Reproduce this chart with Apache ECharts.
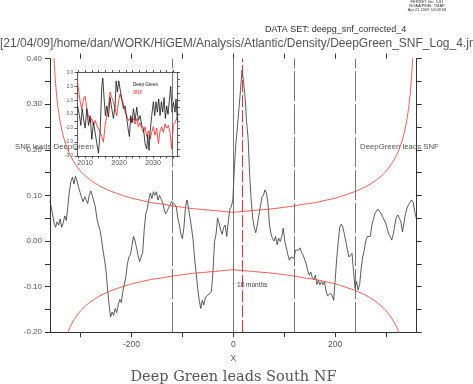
<!DOCTYPE html>
<html><head><meta charset="utf-8">
<script src="https://cdn.jsdelivr.net/npm/echarts@6/dist/echarts.min.js"></script>
<style>html,body{margin:0;padding:0;background:#fff}#c{width:473px;height:384px}</style>
</head><body><div id="c"></div>
<script>
// ---- main lag-correlation series (lag in months) ----
const lags = [-360,-356,-352,-349,-346,-343,-340,-337,-334,-331,-328,-325,-322,-319,-316,-313,-310,-307,-304,-301,-298,-295,-292,-289,-286,-283,-280,-277,-274,-271,-268,-265,-262,-259,-256,-253,-250,-247,-244,-241,-238,-235,-232,-229,-226,-223,-220,-217,-214,-211,-208,-205,-202,-199,-196,-193,-190,-187,-184,-181,-178,-175,-172,-169,-166,-163,-160,-157,-154,-151,-148,-145,-142,-139,-136,-133,-130,-127,-124,-121,-118,-115,-112,-109,-106,-103,-100,-97,-94,-91,-88,-85,-82,-79,-76,-73,-70,-67,-64,-61,-58,-55,-52,-49,-46,-43,-40,-37,-34,-31,-28,-25,-22,-19,-16,-13,-10,-7,-4,-1,2,5,8,11,14,17,20,23,26,29,32,35,38,41,44,47,50,53,56,59,62,65,68,71,74,77,80,83,86,89,92,95,98,101,104,107,110,113,116,119,122,125,128,131,134,137,140,143,146,149,152,155,158,161,164,167,170,173,176,179,182,185,188,191,194,197,200,203,206,209,212,215,218,221,224,227,230,233,236,239,242,245,248,251,254,257,260,263,266,269,272,275,278,281,284,287,290,293,296,299,302,305,308,311,314,317,320,323,326,329,332,335,338,341,344,347,350,353,356,360];
const corr = [0.088,0.065,0.04,0.03,0.042,0.035,0.048,0.03,0.04,0.055,0.045,0.075,0.108,0.13,0.14,0.125,0.142,0.132,0.118,0.107,0.095,0.086,0.097,0.09,0.082,0.1,0.11,0.1,0.096,0.075,0.05,0.035,0.025,0.005,-0.02,-0.04,-0.065,-0.105,-0.14,-0.167,-0.156,-0.163,-0.148,-0.157,-0.14,-0.128,-0.135,-0.11,-0.095,-0.078,-0.05,-0.035,-0.03,-0.01,0.01,0.0,-0.015,-0.032,-0.045,-0.047,-0.025,0.025,0.06,0.07,0.09,0.105,0.093,0.108,0.1,0.108,0.09,0.1,0.096,0.085,0.07,0.06,0.066,0.07,0.08,0.087,0.09,0.08,0.075,0.05,0.035,0.015,0.005,0.03,0.075,0.09,0.072,0.05,0.028,0.002,-0.04,-0.07,-0.104,-0.13,-0.148,-0.13,-0.14,-0.125,-0.12,-0.122,-0.115,-0.11,-0.067,-0.001,0.015,0.05,0.04,0.024,0.015,0.03,0.035,0.01,0.042,0.07,0.075,0.09,0.16,0.215,0.25,0.29,0.33,0.375,0.35,0.315,0.262,0.225,0.145,0.09,0.05,0.03,0.018,0.035,0.055,0.075,0.095,0.1,0.112,0.105,0.082,0.035,0.015,0.005,0.0,0.01,-0.008,0.006,-0.001,0.01,0.028,0.0,-0.015,-0.03,-0.042,-0.035,-0.031,-0.038,-0.02,-0.018,-0.02,-0.015,-0.025,-0.031,-0.034,-0.05,-0.065,-0.075,-0.068,-0.08,-0.085,-0.075,-0.095,-0.086,-0.096,-0.089,-0.096,-0.089,-0.11,-0.12,-0.122,-0.115,-0.12,-0.13,-0.085,-0.038,-0.001,0.031,0.037,0.03,0.015,-0.002,-0.02,-0.035,-0.038,-0.027,-0.067,-0.104,-0.089,-0.107,-0.095,-0.06,-0.035,-0.02,0.0,0.01,0.013,0.01,0.035,0.048,0.06,0.058,0.07,0.07,0.06,0.053,0.05,0.039,0.028,0.015,0.01,0.002,0.015,0.035,0.052,0.057,0.05,0.042,0.02,0.04,0.06,0.072,0.08,0.085,0.09,0.085,0.065,0.046];

// ---- significance bounds (red curves) ----
const boundLags = [-356,-352,-350,-348,-345,-340,-335,-330,-325,-320,-310,-300,-290,-280,-260,-240,-220,-200,-180,-160,-140,-120,-100,-80,-60,-40,-20,0,20,40,60,80,100,120,140,160,180,200,220,240,260,280,290,300,310,320,325,330,335,340,345,348,350,352,356];
const upperBound = [0.535,0.399,0.361,0.332,0.299,0.261,0.235,0.215,0.2,0.187,0.168,0.153,0.142,0.133,0.119,0.109,0.101,0.094,0.089,0.084,0.081,0.077,0.074,0.071,0.069,0.067,0.065,0.063,0.065,0.067,0.069,0.071,0.074,0.077,0.081,0.084,0.089,0.094,0.101,0.109,0.119,0.133,0.142,0.153,0.168,0.187,0.2,0.215,0.235,0.261,0.299,0.332,0.361,0.399,0.535];
const lowerBound = [-0.535,-0.399,-0.361,-0.332,-0.299,-0.261,-0.235,-0.215,-0.2,-0.187,-0.168,-0.153,-0.142,-0.133,-0.119,-0.109,-0.101,-0.094,-0.089,-0.084,-0.081,-0.077,-0.074,-0.071,-0.069,-0.067,-0.065,-0.063,-0.065,-0.067,-0.069,-0.071,-0.074,-0.077,-0.081,-0.084,-0.089,-0.094,-0.101,-0.109,-0.119,-0.133,-0.142,-0.153,-0.168,-0.187,-0.2,-0.215,-0.235,-0.261,-0.299,-0.332,-0.361,-0.399,-0.535];

// ---- reference lines ----
const dashedLags = [-120, 120, 240];
const zeroLag = 0;
const leadLag = 18;

// ---- axis ticks / labels ----
const xTickVals = [-300,-200,-100,0,100,200,300];
const xLabelVals = [-200,0,200];
const yTickVals = [-0.2,-0.15,-0.1,-0.05,0,0.05,0.1,0.15,0.2,0.25,0.3,0.35,0.4];
const yLabelVals = [-0.2,-0.1,0,0.1,0.2,0.3,0.4];

// ---- inset time series ----
const dgYears = [2007.75,2008.33,2008.73,2009.12,2009.51,2010.0,2010.49,2010.98,2011.47,2011.96,2012.45,2012.94,2013.43,2013.92,2014.41,2014.9,2015.2,2015.59,2015.98,2016.37,2016.86,2017.35,2017.84,2018.33,2018.82,2019.12,2019.51,2019.9,2020.29,2020.78,2021.27,2021.76,2022.25,2022.75,2023.04,2023.43,2023.82,2024.22,2024.71,2025.2,2025.69,2026.18,2026.67,2027.16,2027.65,2028.14,2028.43,2028.82,2029.12,2029.61,2030.1,2030.49,2030.88,2031.27,2031.67,2032.06,2032.45,2032.84,2033.24,2033.63,2034.02,2034.41,2034.8,2035.2,2035.59,2035.98,2036.47,2036.76,2037.16];
const dgVals = [0.6,-0.1,-0.8,0.4,-0.3,-1.0,0.4,-0.8,-0.1,-1.8,-0.6,-1.3,-2.1,-2.8,-1.3,2.0,2.6,1.1,-0.1,0.6,-0.2,1.2,0.4,-0.3,0.6,2.4,1.6,2.4,1.8,1.1,0.4,0.6,-0.3,-1.2,-1.6,-0.1,-0.6,0.4,-0.45,0.5,-0.45,-0.1,-0.8,-1.0,-2.1,-2.5,-1.5,-2.6,-1.3,-0.1,0.9,-0.1,0.9,0.15,1.1,-0.1,0.9,0.15,1.2,-0.3,0.6,0.0,1.0,2.0,0.15,0.9,0.15,1.1,-0.45];
const snfYears = [2007.75,2008.14,2008.53,2009.02,2009.51,2010.0,2010.49,2010.98,2011.47,2011.96,2012.45,2012.94,2013.43,2013.92,2014.41,2014.9,2015.39,2015.88,2016.37,2016.86,2017.35,2017.84,2018.33,2018.82,2019.31,2019.8,2020.29,2020.78,2021.27,2021.76,2022.25,2022.75,2023.24,2023.73,2024.22,2024.71,2025.2,2025.69,2026.18,2026.67,2027.16,2027.65,2028.14,2028.63,2029.12,2029.61,2030.1,2030.59,2031.08,2031.57,2032.06,2032.55,2033.04,2033.53,2034.02,2034.51,2035.0,2035.49,2035.98,2036.47,2036.96,2037.16];
const snfVals = [2.3,1.6,0.9,0.4,1.1,1.3,0.4,-0.1,-0.6,-0.3,-0.8,-0.45,-0.8,-0.7,-1.3,-1.6,-2.0,-0.8,-0.1,0.6,1.6,1.2,0.9,0.4,-0.1,0.9,1.45,1.1,0.75,0.15,-0.1,-0.45,-0.3,-0.6,-0.3,-0.7,-0.3,-0.9,-0.6,-1.0,-1.3,-0.9,-1.6,-1.2,-1.8,-1.3,-0.9,-1.5,-1.0,-2.1,-1.2,-0.9,-1.3,-0.7,-1.0,-0.8,-1.3,-2.5,-0.8,-0.6,-0.3,-0.2];
const insetXTicks = [2008,2010,2012,2014,2016,2018,2020,2022,2024,2026,2028,2030,2032,2034,2036];
const insetXLabels = [2010,2020,2030];
const insetYTicks = [-3,-2.5,-2,-1.5,-1,-0.5,0,0.5,1,1.5,2,2.5,3];
const insetYLabels = [-3,-2,-1,0,1,2,3];

const zip = (a, b) => a.map((v, i) => [v, b[i]]);
const SANS = '"Liberation Sans", Arial, sans-serif';
const AX = '#333';
const TXT = '#555';

const chart = echarts.init(document.getElementById('c'), null, {renderer: 'canvas'});

const markData = dashedLags.map(v => ({xAxis: v, lineStyle: {color: '#555', width: 0.8, type: [30, 3]}}));
markData.push({xAxis: zeroLag, lineStyle: {color: '#555', width: 0.8, type: 'solid'}});
markData.push({xAxis: leadLag, lineStyle: {color: '#f03030', width: 1, type: [12, 3]}});

chart.setOption({
  animation: false,
  backgroundColor: '#fff',
  grid: [
    {left: 50, top: 58.6, width: 366.7, height: 273.6},
    {left: 77, top: 72.5, width: 100.5, height: 83.5}
  ],
  xAxis: [
    {gridIndex: 0, type: 'value', min: -360, max: 360, position: 'bottom',
     axisLine: {show: true, onZero: false, lineStyle: {color: AX, width: 1}},
     axisTick: {show: true, customValues: xTickVals, length: 5, lineStyle: {color: AX}},
     axisLabel: {customValues: xLabelVals, formatter: v => String(v), fontSize: 8.5, color: TXT, fontFamily: SANS, margin: 8},
     splitLine: {show: false},
     name: 'X', nameLocation: 'middle', nameGap: 18,
     nameTextStyle: {fontSize: 8.5, color: TXT, fontFamily: SANS}},
    {gridIndex: 0, type: 'value', min: -360, max: 360, position: 'top',
     axisLine: {show: false, onZero: false},
     axisTick: {show: true, customValues: xTickVals, length: 5, lineStyle: {color: AX}},
     axisLabel: {show: false}, splitLine: {show: false}},
    {gridIndex: 1, type: 'value', min: 2007.6, max: 2037.2, position: 'bottom',
     axisLine: {show: true, onZero: false, lineStyle: {color: AX, width: 0.8}},
     axisTick: {show: true, customValues: insetXTicks, length: 2.5, lineStyle: {color: AX, width: 0.8}},
     axisLabel: {customValues: insetXLabels, formatter: v => String(v), fontSize: 7, color: TXT, fontFamily: SANS, margin: 4},
     splitLine: {show: false}},
    {gridIndex: 1, type: 'value', min: 2007.6, max: 2037.2, position: 'top',
     axisLine: {show: true, onZero: false, lineStyle: {color: AX, width: 0.8}},
     axisTick: {show: true, customValues: insetXTicks, length: 2.5, lineStyle: {color: AX, width: 0.8}},
     axisLabel: {show: false}, splitLine: {show: false}}
  ],
  yAxis: [
    {gridIndex: 0, type: 'value', min: -0.2, max: 0.4, position: 'left',
     axisLine: {show: true, onZero: false, lineStyle: {color: AX, width: 1}},
     axisTick: {show: true, customValues: yTickVals, length: 5, lineStyle: {color: AX}},
     axisLabel: {customValues: yLabelVals, formatter: v => v.toFixed(2), fontSize: 8, color: TXT, fontFamily: SANS, margin: 8},
     splitLine: {show: false}},
    {gridIndex: 0, type: 'value', min: -0.2, max: 0.4, position: 'right',
     axisLine: {show: true, onZero: false, lineStyle: {color: AX, width: 1}},
     axisTick: {show: true, customValues: yTickVals, length: 5, lineStyle: {color: AX}},
     axisLabel: {show: false}, splitLine: {show: false}},
    {gridIndex: 1, type: 'value', min: -3, max: 3, position: 'left',
     axisLine: {show: true, onZero: false, lineStyle: {color: AX, width: 0.8}},
     axisTick: {show: true, customValues: insetYTicks, length: 2.5, lineStyle: {color: AX, width: 0.8}},
     axisLabel: {customValues: insetYLabels, formatter: v => v.toFixed(1), fontSize: 4.5, color: TXT, fontFamily: SANS, margin: 4},
     splitLine: {show: false}},
    {gridIndex: 1, type: 'value', min: -3, max: 3, position: 'right',
     axisLine: {show: true, onZero: false, lineStyle: {color: AX, width: 0.8}},
     axisTick: {show: true, customValues: insetYTicks, length: 2.5, lineStyle: {color: AX, width: 0.8}},
     axisLabel: {show: false}, splitLine: {show: false}}
  ],
  series: [
    {type: 'line', name: 'corr', xAxisIndex: 0, yAxisIndex: 0, data: zip(lags, corr),
     showSymbol: false, lineStyle: {color: '#333', width: 0.8}, z: 3,
     markLine: {silent: true, symbol: ['none', 'none'], label: {show: false}, data: markData}},
    {type: 'line', name: 'upper', xAxisIndex: 0, yAxisIndex: 0, data: zip(boundLags, upperBound),
     showSymbol: false, smooth: 0.2, lineStyle: {color: '#f04848', width: 0.9}},
    {type: 'line', name: 'lower', xAxisIndex: 0, yAxisIndex: 0, data: zip(boundLags, lowerBound),
     showSymbol: false, smooth: 0.2, lineStyle: {color: '#f04848', width: 0.9}},
    {type: 'line', name: 'SNF', xAxisIndex: 2, yAxisIndex: 2, data: zip(snfYears, snfVals),
     showSymbol: false, lineStyle: {color: '#ff2020', width: 0.8}},
    {type: 'line', name: 'Deep Green', xAxisIndex: 2, yAxisIndex: 2, data: zip(dgYears, dgVals),
     showSymbol: false, lineStyle: {color: '#111', width: 0.8}}
  ],
  graphic: [
    {type: 'text', x: 427, y: 2, style: {text: 'FERRET Ver. 5.81', font: '4px ' + SANS, fill: '#333', align: 'center', verticalAlign: 'middle'}},
    {type: 'text', x: 427, y: 6, style: {text: 'NOAA/PMEL TMAP', font: '4px ' + SANS, fill: '#333', align: 'center', verticalAlign: 'middle'}},
    {type: 'text', x: 427, y: 10, style: {text: 'Apr 21 2009 12:08:58', font: '4px ' + SANS, fill: '#333', align: 'center', verticalAlign: 'middle'}},
    {type: 'text', x: 265, y: 30, style: {text: 'DATA SET: deepg_snf_corrected_4', font: '9px ' + SANS, fill: '#333', align: 'left', verticalAlign: 'middle'}},
    {type: 'text', x: 0, y: 44, style: {text: '[21/04/09]/home/dan/WORK/HiGEM/Analysis/Atlantic/Density/DeepGreen_SNF_Log_4.jnl', font: '12px ' + SANS, fill: '#555', align: 'left', verticalAlign: 'middle'}},
    {type: 'text', x: 15, y: 147, style: {text: 'SNF leads DeepGreen', font: '7.8px ' + SANS, fill: '#555', align: 'left', verticalAlign: 'middle'}},
    {type: 'text', x: 360, y: 147, style: {text: 'DeepGreen leads SNF', font: '7.8px ' + SANS, fill: '#555', align: 'left', verticalAlign: 'middle'}},
    {type: 'text', x: 237, y: 285, style: {text: '18 months', font: '6.5px ' + SANS, fill: '#444', align: 'left', verticalAlign: 'middle'}},
    {type: 'text', x: 133, y: 84.5, style: {text: 'Deep Green', font: '4.6px ' + SANS, fill: '#111', align: 'left', verticalAlign: 'middle'}},
    {type: 'text', x: 133, y: 92.3, style: {text: 'SNF', font: '4.6px ' + SANS, fill: '#ff2020', align: 'left', verticalAlign: 'middle'}},
    {type: 'text', x: 233.5, y: 377, style: {text: 'Deep Green leads South NF', font: '14.5px "DejaVu Serif", serif', fill: '#555', align: 'center', verticalAlign: 'middle'}}
  ]
});
</script></body></html>
